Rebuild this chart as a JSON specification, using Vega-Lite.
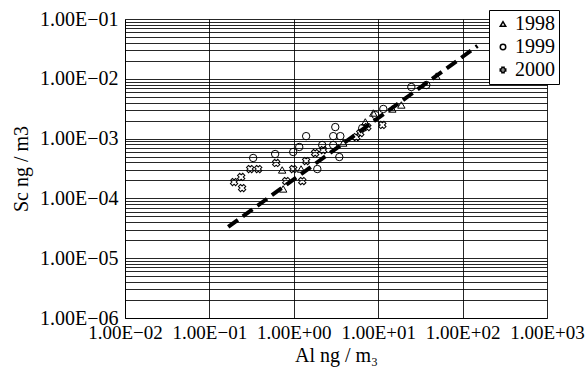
{
  "$schema": "https://vega.github.io/schema/vega-lite/v6.json",
  "width": 422,
  "height": 299,
  "autosize": {"type": "none"},
  "padding": {"left": 125, "top": 19, "right": 38, "bottom": 57},
  "background": "white",
  "config": {
    "font": "Liberation Serif",
    "view": {"stroke": null},
    "axis": {
      "labelFont": "Liberation Serif",
      "titleFont": "Liberation Serif",
      "labelFontSize": 20,
      "titleFontSize": 20,
      "titleFontWeight": "normal",
      "labelColor": "black",
      "titleColor": "black",
      "domainColor": "black",
      "gridColor": "black",
      "gridOpacity": 0.85,
      "gridWidth": 1,
      "ticks": false,
      "labelOverlap": false,
      "labelFlush": false
    }
  },
  "layer": [
    {
      "data": {
        "values": [
          {"year": "1998", "al": 0.728, "sc": 0.000299},
          {"year": "1998", "al": 0.748, "sc": 0.000144},
          {"year": "1998", "al": 1.22, "sc": 0.00031},
          {"year": "1998", "al": 3.85, "sc": 0.000844},
          {"year": "1998", "al": 7.03, "sc": 0.0019},
          {"year": "1998", "al": 8.75, "sc": 0.00268},
          {"year": "1998", "al": 14.7, "sc": 0.00313},
          {"year": "1998", "al": 18.8, "sc": 0.00365},
          {"year": "1998", "al": 48.9, "sc": 0.0111},
          {"year": "1999", "al": 0.33, "sc": 0.000474},
          {"year": "1999", "al": 0.601, "sc": 0.000552},
          {"year": "1999", "al": 0.984, "sc": 0.000597},
          {"year": "1999", "al": 1.16, "sc": 0.000724},
          {"year": "1999", "al": 1.4, "sc": 0.0011},
          {"year": "1999", "al": 1.9, "sc": 0.00031},
          {"year": "1999", "al": 2.17, "sc": 0.000781},
          {"year": "1999", "al": 3.1, "sc": 0.00156},
          {"year": "1999", "al": 2.93, "sc": 0.0011},
          {"year": "1999", "al": 3.56, "sc": 0.0011},
          {"year": "1999", "al": 2.93, "sc": 0.000781},
          {"year": "1999", "al": 3.46, "sc": 0.000492},
          {"year": "1999", "al": 6.47, "sc": 0.0015},
          {"year": "1999", "al": 9.25, "sc": 0.00248},
          {"year": "1999", "al": 11.5, "sc": 0.00313},
          {"year": "1999", "al": 24.7, "sc": 0.00729},
          {"year": "1999", "al": 37.2, "sc": 0.00787},
          {"year": "2000", "al": 0.196, "sc": 0.000188},
          {"year": "2000", "al": 0.238, "sc": 0.000228},
          {"year": "2000", "al": 0.244, "sc": 0.000149},
          {"year": "2000", "al": 0.304, "sc": 0.00031},
          {"year": "2000", "al": 0.379, "sc": 0.00031},
          {"year": "2000", "al": 0.618, "sc": 0.000391},
          {"year": "2000", "al": 0.984, "sc": 0.00031},
          {"year": "2000", "al": 0.813, "sc": 0.000195},
          {"year": "2000", "al": 1.26, "sc": 0.000195},
          {"year": "2000", "al": 1.4, "sc": 0.000422},
          {"year": "2000", "al": 1.79, "sc": 0.000574},
          {"year": "2000", "al": 2.23, "sc": 0.000644},
          {"year": "2000", "al": 5.5, "sc": 0.00106},
          {"year": "2000", "al": 6.13, "sc": 0.00124},
          {"year": "2000", "al": 7.43, "sc": 0.00156},
          {"year": "2000", "al": 11.2, "sc": 0.00169}
        ]
      },
      "mark": {"type": "point", "color": "black", "strokeWidth": 1, "size": 55, "opacity": 1},
      "encoding": {
        "x": {
          "field": "al",
          "type": "quantitative",
          "scale": {"type": "log", "domain": [0.01, 1000], "nice": false},
          "axis": {
            "title": "Al ng / m₃",
            "values": [0.01, 0.1, 1, 10, 100, 1000],
            "grid": true,
            "labelFontSize": 19,
            "labelPadding": 5,
            "titlePadding": 3,
            "labelExpr": "'1.00E' + (round(log(datum.value)/LN10) < 0 ? '−' : '+') + (abs(round(log(datum.value)/LN10)) < 10 ? '0' : '') + abs(round(log(datum.value)/LN10))"
          }
        },
        "y": {
          "field": "sc",
          "type": "quantitative",
          "scale": {"type": "log", "domain": [0.000001, 0.1], "nice": false},
          "axis": {
            "title": "Sc ng / m3",
            "grid": true,
            "labelPadding": 7,
            "titlePadding": 8,
            "values": [1e-6, 2e-6, 3e-6, 4e-6, 5e-6, 6e-6, 7e-6, 8e-6, 9e-6, 1e-5, 2e-5, 3e-5, 4e-5, 5e-5, 6e-5, 7e-5, 8e-5, 9e-5, 1e-4, 2e-4, 3e-4, 4e-4, 5e-4, 6e-4, 7e-4, 8e-4, 9e-4, 0.001, 0.002, 0.003, 0.004, 0.005, 0.006, 0.007, 0.008, 0.009, 0.01, 0.02, 0.03, 0.04, 0.05, 0.06, 0.07, 0.08, 0.09, 0.1],
            "labelExpr": "abs(log(datum.value)/LN10 - round(log(datum.value)/LN10)) < 0.001 ? ('1.00E' + (round(log(datum.value)/LN10) < 0 ? '−' : '+') + (abs(round(log(datum.value)/LN10)) < 10 ? '0' : '') + abs(round(log(datum.value)/LN10))) : ''"
          }
        },
        "angle": {"condition": {"test": "datum.year === '2000'", "value": 45}, "value": 0},
        "shape": {
          "field": "year",
          "type": "nominal",
          "scale": {
            "domain": ["1998", "1999", "2000"],
            "range": ["triangle-up", "circle", "cross"]
          },
          "legend": {
            "title": null,
            "orient": "none",
            "legendX": 364,
            "legendY": -9,
            "padding": 4,
            "strokeColor": "black",
            "fillColor": "white",
            "labelFont": "Liberation Serif",
            "labelFontSize": 20,
            "labelColor": "black",
            "labelOffset": 2,
            "symbolSize": 30,
            "rowPadding": 3
          }
        }
      }
    },
    {
      "data": {
        "values": [
          {"al": 0.167, "sc": 0.0000333},
          {"al": 150, "sc": 0.0354}
        ]
      },
      "mark": {"type": "line", "color": "black", "strokeWidth": 4, "strokeDash": [12, 6]},
      "encoding": {
        "x": {"field": "al", "type": "quantitative"},
        "y": {"field": "sc", "type": "quantitative"}
      }
    }
  ]
}
